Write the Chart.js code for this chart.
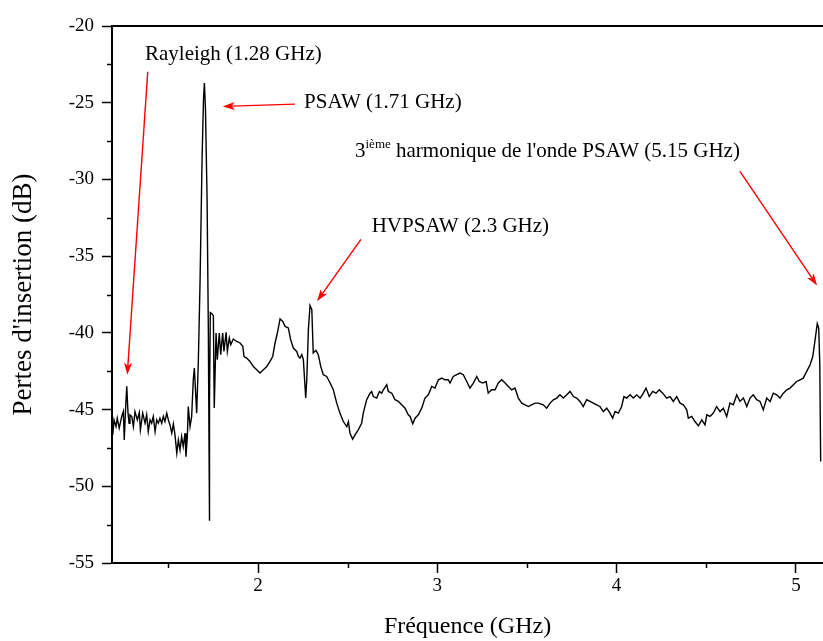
<!DOCTYPE html>
<html><head><meta charset="utf-8">
<script src="https://cdn.jsdelivr.net/npm/chart.js@4.4.1/dist/chart.umd.min.js"></script>
<style>html,body{margin:0;padding:0;background:#fff;}canvas{display:block;}</style>
</head><body>
<canvas id="c" width="823" height="641"></canvas>
<script>
const freqGHz = [
1.190,1.197,1.208,1.215,1.226,1.240,1.249,1.254,1.262,1.268,
1.275,1.281,1.286,1.296,1.305,1.314,1.327,1.338,1.344,1.357,
1.370,1.379,1.388,1.398,1.407,1.416,1.426,1.435,1.444,1.453,
1.463,1.472,1.481,1.491,1.500,1.509,1.519,1.528,1.537,1.547,
1.556,1.565,1.574,1.583,1.593,1.598,1.606,1.611,1.621,1.630,
1.639,1.645,1.654,1.658,1.667,1.677,1.688,1.696,1.701,1.707,
1.716,1.723,1.727,1.728,1.731,1.734,1.743,1.751,1.756,1.766,
1.773,1.784,1.792,1.803,1.810,1.822,1.829,1.840,1.848,1.862,
1.881,1.900,1.915,1.922,1.937,1.955,1.974,1.993,2.011,2.030,
2.049,2.067,2.082,2.095,2.108,2.123,2.138,2.151,2.169,2.182,
2.197,2.216,2.225,2.234,2.244,2.253,2.266,2.272,2.281,2.290,
2.300,2.308,2.323,2.336,2.350,2.364,2.383,2.402,2.420,2.439,
2.457,2.476,2.495,2.504,2.513,2.528,2.541,2.559,2.578,2.587,
2.606,2.625,2.634,2.643,2.662,2.677,2.690,2.699,2.718,2.727,
2.746,2.764,2.783,2.801,2.820,2.838,2.848,2.863,2.876,2.894,
2.913,2.931,2.950,2.969,2.987,3.006,3.025,3.043,3.061,3.071,
3.089,3.108,3.127,3.145,3.164,3.182,3.201,3.220,3.234,3.253,
3.272,3.284,3.303,3.322,3.340,3.359,3.378,3.396,3.415,3.433,
3.452,3.471,3.489,3.508,3.526,3.545,3.563,3.591,3.610,3.629,
3.647,3.666,3.684,3.703,3.722,3.740,3.759,3.777,3.796,3.814,
3.833,3.852,3.870,3.889,3.907,3.926,3.945,3.963,3.978,3.991,
4.010,4.028,4.041,4.056,4.075,4.093,4.112,4.131,4.149,4.164,
4.182,4.201,4.220,4.238,4.257,4.279,4.298,4.316,4.335,4.354,
4.372,4.391,4.400,4.419,4.437,4.456,4.475,4.493,4.503,4.521,
4.539,4.558,4.577,4.595,4.614,4.632,4.651,4.670,4.688,4.707,
4.726,4.744,4.762,4.781,4.800,4.818,4.837,4.856,4.874,4.893,
4.911,4.930,4.949,4.967,4.986,5.004,5.023,5.041,5.060,5.079,
5.094,5.107,5.119,5.127,5.133,5.138
];
const lossDb = [
-46.65,-45.67,-46.11,-45.56,-46.21,-45.45,-45.13,-46.98,-44.80,-43.49,
-45.23,-45.89,-45.34,-45.45,-46.11,-45.13,-45.67,-45.19,-46.32,-45.23,
-45.89,-45.34,-46.43,-45.67,-45.89,-45.45,-46.43,-45.67,-45.89,-45.56,
-45.89,-45.45,-45.78,-45.23,-45.67,-46.00,-46.54,-45.93,-46.65,-47.84,
-46.98,-47.63,-46.76,-47.41,-46.54,-48.07,-46.76,-44.80,-46.11,-45.45,
-43.06,-42.29,-44.36,-45.23,-41.97,-36.53,-28.69,-24.77,-23.72,-25.42,
-31.30,-39.79,-47.63,-52.25,-44.36,-38.68,-38.75,-38.88,-44.89,-40.01,
-41.75,-40.01,-41.42,-40.01,-41.21,-39.97,-41.21,-40.33,-40.77,-40.40,
-40.56,-40.66,-40.88,-41.54,-41.64,-41.86,-42.19,-42.40,-42.62,-42.40,
-42.19,-41.86,-41.54,-40.66,-40.01,-39.09,-39.25,-39.58,-39.68,-40.44,
-40.99,-41.21,-41.54,-41.64,-41.42,-41.75,-44.25,-43.06,-39.79,-38.22,
-38.48,-41.31,-41.14,-41.42,-42.19,-42.73,-42.84,-43.27,-43.71,-44.58,
-45.23,-45.78,-46.11,-45.78,-46.54,-46.93,-46.65,-46.32,-45.89,-45.23,
-44.36,-43.93,-43.82,-44.15,-44.25,-43.82,-43.93,-43.71,-43.38,-43.82,
-43.93,-44.36,-44.47,-44.69,-44.91,-45.34,-45.45,-45.93,-45.56,-45.34,
-44.91,-44.25,-44.04,-43.49,-43.60,-43.06,-42.95,-43.06,-43.06,-43.27,
-42.84,-42.73,-42.62,-42.73,-43.17,-43.60,-43.27,-42.84,-43.17,-43.27,
-43.17,-43.93,-43.71,-43.71,-43.27,-43.06,-43.27,-43.49,-43.71,-43.60,
-44.25,-44.58,-44.69,-44.80,-44.69,-44.58,-44.58,-44.69,-44.91,-44.58,
-44.36,-44.25,-44.04,-44.25,-44.04,-43.82,-44.15,-44.25,-44.47,-44.80,
-44.36,-44.47,-44.58,-44.69,-44.80,-45.13,-44.91,-45.23,-45.56,-45.13,
-45.23,-44.80,-44.15,-44.25,-44.04,-44.25,-44.04,-44.25,-43.93,-43.60,
-44.15,-43.82,-43.93,-43.71,-43.93,-44.25,-44.15,-44.47,-44.15,-44.58,
-44.69,-45.02,-45.56,-45.45,-45.78,-46.06,-45.67,-46.00,-45.34,-45.45,
-45.23,-44.80,-45.13,-44.91,-45.45,-44.58,-44.69,-44.04,-44.47,-44.25,
-44.80,-44.25,-44.04,-44.36,-44.47,-45.02,-44.25,-44.47,-43.93,-44.04,
-44.25,-43.93,-43.71,-43.60,-43.38,-43.17,-43.06,-42.95,-42.51,-42.08,
-41.54,-40.44,-39.40,-39.68,-41.97,-48.39
];
const xTickValues = [2, 3, 4, 5];
const xMinorTicks = [1.5, 2.5, 3.5, 4.5];
const yMinorTicks = [-22.5, -27.5, -32.5, -37.5, -42.5, -47.5, -52.5];
const xTitle = 'Fréquence (GHz)';
const yTitle = "Pertes d'insertion (dB)";

// annotation labels (anchor in data units) and arrows (tail -> tip, data units)
const labels = [
  {x: 1.370, y: -21.83, parts: [{t: 'Rayleigh (1.28 GHz)'}]},
  {x: 2.257, y: -24.96, parts: [{t: 'PSAW (1.71 GHz)'}]},
  {x: 2.541, y: -28.16, parts: [{t: '3'}, {t: 'ième', sup: true}, {t: " harmonique de l'onde PSAW (5.15 GHz)"}]},
  {x: 2.634, y: -33.04, parts: [{t: 'HVPSAW (2.3 GHz)'}]}
];
const arrows = [
  {from: [1.385, -22.98], to: [1.271, -42.73]},
  {from: [2.206, -25.09], to: [1.803, -25.24]},
  {from: [2.574, -33.91], to: [2.329, -37.94]},
  {from: [4.688, -29.47], to: [5.118, -36.92]}
];

const FONT = '"Liberation Serif", "Times New Roman", serif';

const annotPlugin = {
  id: 'annot',
  afterDraw(chart) {
    const {ctx, scales} = chart;
    const x = scales.x, y = scales.y;
    ctx.save();
    // minor ticks
    ctx.strokeStyle = '#000'; ctx.lineWidth = 1.5;
    const area = chart.chartArea;
    xMinorTicks.forEach(v => {
      const px = Math.round(x.getPixelForValue(v)) + 0.5;
      ctx.beginPath(); ctx.moveTo(px, area.bottom); ctx.lineTo(px, area.bottom + 5); ctx.stroke();
    });
    yMinorTicks.forEach(v => {
      const py = Math.round(y.getPixelForValue(v)) + 0.5;
      ctx.beginPath(); ctx.moveTo(area.left, py); ctx.lineTo(area.left - 5, py); ctx.stroke();
    });
    // arrows
    ctx.strokeStyle = '#ff0000'; ctx.fillStyle = '#ff0000'; ctx.lineWidth = 1.4;
    arrows.forEach(a => {
      const x1 = x.getPixelForValue(a.from[0]), y1 = y.getPixelForValue(a.from[1]);
      const x2 = x.getPixelForValue(a.to[0]), y2 = y.getPixelForValue(a.to[1]);
      const ang = Math.atan2(y2 - y1, x2 - x1);
      const L = 12, W = 4;
      const bx = x2 - L * Math.cos(ang), by = y2 - L * Math.sin(ang);
      ctx.beginPath(); ctx.moveTo(x1, y1); ctx.lineTo(bx + 3 * Math.cos(ang), by + 3 * Math.sin(ang)); ctx.stroke();
      ctx.beginPath();
      ctx.moveTo(x2, y2);
      ctx.lineTo(bx + W * Math.sin(ang), by - W * Math.cos(ang));
      ctx.lineTo(bx + 3 * Math.cos(ang), by + 3 * Math.sin(ang));
      ctx.lineTo(bx - W * Math.sin(ang), by + W * Math.cos(ang));
      ctx.closePath(); ctx.fill();
    });
    // labels
    ctx.fillStyle = '#000'; ctx.textBaseline = 'middle'; ctx.textAlign = 'left';
    labels.forEach(l => {
      let px = x.getPixelForValue(l.x);
      const py = y.getPixelForValue(l.y);
      l.parts.forEach(p => {
        ctx.font = (p.sup ? 13 : 21) + 'px ' + FONT;
        ctx.fillText(p.t, px, p.sup ? py - 7 : py);
        px += ctx.measureText(p.t).width;
      });
    });
    ctx.restore();
  }
};

new Chart(document.getElementById('c').getContext('2d'), {
  type: 'line',
  data: {
    datasets: [{
      data: freqGHz.map((f, i) => ({x: f, y: lossDb[i]})),
      borderColor: '#000', borderWidth: 1.4, pointRadius: 0, tension: 0, fill: false
    }]
  },
  options: {
    responsive: false, animation: false, devicePixelRatio: 1,
    layout: {padding: {top: 26, right: 0, bottom: 0, left: 0}},
    plugins: {legend: {display: false}, tooltip: {enabled: false}},
    scales: {
      x: {
        type: 'linear', position: 'bottom', min: 1.1857, max: 5.151,
        afterBuildTicks: s => { s.ticks = xTickValues.map(v => ({value: v})); },
        afterFit: s => { s.height = 78; },
        grid: {display: true, drawOnChartArea: false, drawTicks: true, tickLength: 10, tickWidth: 1.5, tickColor: '#000'},
        border: {display: true, color: '#000', width: 2},
        ticks: {color: '#000', font: {family: FONT, size: 19}, padding: 2, maxRotation: 0, autoSkip: false, callback: v => String(v)},
        title: {display: true, text: xTitle, color: '#000', font: {family: FONT, size: 24}, padding: {top: 0, bottom: 0}}
      },
      xTop: {
        type: 'linear', position: 'top', min: 1.1857, max: 5.151,
        afterFit: s => { s.height = 0; },
        grid: {display: false}, ticks: {display: false},
        border: {display: true, color: '#000', width: 2}
      },
      y: {
        type: 'linear', position: 'left', min: -55, max: -20,
        afterFit: s => { s.width = 112; },
        grid: {display: true, drawOnChartArea: false, drawTicks: true, tickLength: 10, tickWidth: 1.5, tickColor: '#000'},
        border: {display: true, color: '#000', width: 2},
        ticks: {stepSize: 5, color: '#000', font: {family: FONT, size: 19}, padding: 8, callback: v => String(v)},
        title: {display: true, text: yTitle, color: '#000', font: {family: FONT, size: 27}, padding: {top: 8, bottom: 8}}
      }
    }
  },
  plugins: [annotPlugin]
});
</script>
</body></html>
